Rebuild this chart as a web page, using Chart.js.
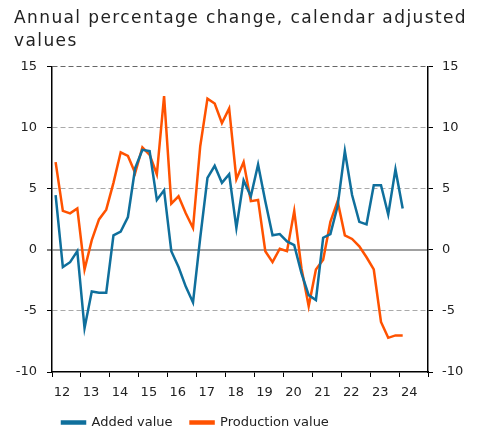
<!DOCTYPE html>
<html>
<head>
<meta charset="utf-8">
<script src="https://cdn.jsdelivr.net/npm/chart.js@4"></script>
<style>
  body { margin: 0; background: #fff; }
</style>
</head>
<body>
<canvas id="chart" width="478" height="429"></canvas>
<script>
// Quarterly data, 2012 Q1 to 2024 Q1
const years = ['12', '13', '14', '15', '16', '17', '18', '19', '20', '21', '22', '23', '24'];

const addedValue = [
    4.5, -1.4, -1.0, -0.1,
    -6.4, -3.4, -3.5, -3.5,
    1.2, 1.5, 2.7, 6.7,
    8.2, 8.1, 4.1, 4.9,
    -0.1, -1.4, -3.0, -4.3,
    1.0, 5.9, 6.9, 5.5,
    6.2, 1.8, 5.7, 4.4,
    7.0, 4.0, 1.2, 1.3,
    0.7, 0.4, -1.9, -3.7,
    -4.1, 1.0, 1.3, 3.6,
    8.1, 4.5, 2.3, 2.1,
    5.3, 5.3, 2.9, 6.6,
    3.4
];

const productionValue = [
    7.2, 3.2, 3.0, 3.4,
    -1.6, 0.8, 2.5, 3.3,
    5.5, 8.0, 7.7, 6.3,
    8.4, 7.8, 6.2, 12.6,
    3.8, 4.4, 3.0, 1.8,
    8.5, 12.4, 12.0, 10.4,
    11.6, 5.8, 7.2, 4.0,
    4.1, -0.1, -1.0, 0.1,
    -0.1, 3.2, -1.5, -4.6,
    -1.6, -0.8, 2.3, 4.0,
    1.2, 0.9, 0.3, -0.6,
    -1.6, -5.9, -7.2, -7.0,
    -7.0
];

const yTicks = [-10, -5, 0, 5, 10, 15];

const toPoints = (values) => values.map((v, i) => ({ x: i + 0.5, y: v }));

const font = { family: 'DejaVu Sans', size: 13 };

// tweaks the built-in title / legend boxes (letter spacing, legend size and place)
const boxTweaks = {
    id: 'boxTweaks',
    beforeInit(chart) {
        const title = chart.titleBlock;
        const drawTitle = title.draw;
        title.draw = function () {
            const c = this.ctx;
            c.save();
            c.letterSpacing = '1.4px';
            drawTitle.apply(this, arguments);
            c.restore();
        };
        const legend = chart.legend;
        const fitLegend = legend.fit;
        legend.fit = function () {
            fitLegend.apply(this, arguments);
            this.height = 31;
        };
    },
    beforeDraw(chart) {
        chart.legend.left = 44;
    }
};

const ctx = document.getElementById('chart').getContext('2d');
new Chart(ctx, {
    type: 'line',
    data: {
        datasets: [{
            label: 'Added value',
            data: toPoints(addedValue),
            borderColor: '#0f6f9c',
            backgroundColor: '#0f6f9c',
            borderWidth: 2.5,
            pointRadius: 0,
            tension: 0,
            yAxisID: 'y'
        }, {
            label: 'Production value',
            data: toPoints(productionValue),
            borderColor: '#ff5200',
            backgroundColor: '#ff5200',
            borderWidth: 2.5,
            pointRadius: 0,
            tension: 0,
            yAxisID: 'y'
        }]
    },
    plugins: [boxTweaks],
    options: {
        responsive: false,
        animation: false,
        layout: { padding: { left: 14, right: 0, top: 0, bottom: 0 } },
        scales: {
            x: {
                type: 'linear',
                min: 0,
                max: years.length * 4,
                afterBuildTicks: (scale) => {
                    const ticks = [];
                    years.forEach((y, i) => {
                        ticks.push({ value: i * 4 });
                        ticks.push({ value: i * 4 + 1.4 });
                    });
                    ticks.push({ value: years.length * 4 });
                    scale.ticks = ticks;
                },
                afterFit: (scale) => { scale.height = 26; },
                ticks: {
                    autoSkip: false,
                    maxRotation: 0,
                    padding: 8,
                    color: '#222',
                    font: font,
                    callback: (value) => value % 4 === 0 ? '' : years[Math.floor(value / 4)]
                },
                grid: {
                    drawOnChartArea: false,
                    tickLength: 5,
                    tickWidth: 1,
                    tickColor: (c) => (c.tick && c.tick.value % 4 === 0) ? '#000' : 'rgba(0,0,0,0)'
                },
                border: { color: '#000', width: 1.5 }
            },
            y: {
                position: 'left',
                min: -10,
                max: 15,
                afterBuildTicks: (scale) => { scale.ticks = yTicks.map(v => ({ value: v })); },
                afterFit: (scale) => { scale.width = 38; },
                ticks: { padding: 10, color: '#222', font: font },
                grid: {
                    tickLength: 5,
                    tickWidth: 1,
                    tickColor: '#000',
                    lineWidth: (c) => (c.tick && c.tick.value === 0) ? 2 : 1,
                    color: (c) => {
                        if (!c.tick) return '#aaa';
                        if (c.tick.value === -10) return 'rgba(0,0,0,0)';
                        if (c.tick.value === 15) return '#666';
                        if (c.tick.value === 0) return '#a0a0a0';
                        return '#aaa';
                    }
                },
                border: {
                    color: '#000',
                    width: 1.5,
                    dash: (c) => (c.tick && c.tick.value === 0) ? [] : [5, 3]
                }
            },
            y2: {
                position: 'right',
                min: -10,
                max: 15,
                afterBuildTicks: (scale) => { scale.ticks = yTicks.map(v => ({ value: v })); },
                afterFit: (scale) => { scale.width = 50; },
                ticks: { padding: 9, color: '#222', font: font },
                grid: {
                    drawOnChartArea: false,
                    tickLength: 5,
                    tickWidth: 1,
                    tickColor: '#000'
                },
                border: { color: '#000', width: 1.5 }
            }
        },
        plugins: {
            title: {
                display: true,
                text: ['Annual percentage change, calendar adjusted', 'values'],
                align: 'start',
                color: '#222',
                font: { family: 'DejaVu Sans', size: 17, weight: 'normal', lineHeight: 1.35 },
                padding: { top: 7, bottom: 14 }
            },
            legend: {
                position: 'bottom',
                align: 'start',
                labels: {
                    boxWidth: 23,
                    boxHeight: 2,
                    padding: 18,
                    color: '#222',
                    font: font
                }
            },
            tooltip: { enabled: false }
        }
    }
});
</script>
</body>
</html>
